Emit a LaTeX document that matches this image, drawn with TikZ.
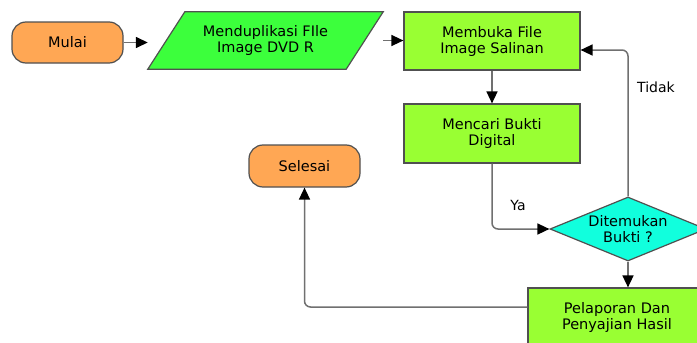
\documentclass[tikz,border=0pt]{standalone}
\usepackage{fontspec}
\setmainfont{DejaVu Sans}
\usetikzlibrary{shapes.geometric,arrows.meta}
\definecolor{termcol}{HTML}{FFA754}
\definecolor{iocol}{HTML}{3CFF3C}
\definecolor{proccol}{HTML}{99FF33}
\definecolor{deccol}{HTML}{11FFDD}
\definecolor{edgecol}{HTML}{505050}
\definecolor{linecol}{HTML}{707070}
\begin{document}
\begin{tikzpicture}[x=1pt,y=-1pt,
  every node/.style={font=\fontsize{14.5}{16}\selectfont, align=center, inner sep=0pt},
  term/.style={draw=edgecol, fill=termcol, line width=1.2pt, rounded corners=14pt, minimum width=111pt, minimum height=41pt},
  proc/.style={draw=edgecol, fill=proccol, line width=1.2pt, minimum width=176pt, minimum height=58pt},
  decis/.style={draw=edgecol, fill=deccol, line width=1.2pt, diamond, shape aspect=2.44, minimum width=156pt, minimum height=64pt},
  iobox/.style={minimum width=198pt, minimum height=57pt},
  conn/.style={draw=linecol, line width=1.5pt, rounded corners=6pt, -{Triangle[length=12pt,width=11pt,color=black]}},
  lbl/.style={font=\fontsize{14}{16}\selectfont}
]
\useasboundingbox (0,0) rectangle (697,343);
\fill[white] (0,0) rectangle (697,343);

\node[term] (mulai) at (67.5,42.5) {Mulai};
\node[iobox] (par) at (265.5,40.5) {};
\filldraw[draw=edgecol, fill=iocol, line width=1.2pt]
  ([xshift=18.5pt]par.north west) -- ([xshift=18.5pt]par.north east)
  -- ([xshift=-18.5pt]par.south east) -- ([xshift=-18.5pt]par.south west) -- cycle;
\node at (par) {Menduplikasi FIle\\Image DVD R};
\node[proc] (b1) at (492,41) {Membuka File\\Image Salinan};
\node[proc, minimum height=59pt] (b2) at (492,133.5) {Mencari Bukti\\Digital};
\node[term, minimum height=42pt] (sel) at (304.5,166) {Selesai};
\node[decis] (dia) at (628,229) {Ditemukan\\Bukti ?};
\node[proc, minimum width=178pt] (pel) at (617,317) {Pelaporan Dan\\Penyajian Hasil};

\coordinate (parin) at ([xshift=-18.5pt]par.west);
\coordinate (parout) at ([xshift=18.5pt]par.east);
\coordinate (b1back) at ([yshift=-9pt]b1.east);
\coordinate (pelout) at ([yshift=10pt]pel.west);

\draw[conn] (mulai.east) -- (mulai.east -| parin);
\draw[conn] (parout) -- (parout -| b1.west);
\draw[conn] (b1.south) -- (b2.north);
\draw[conn] (b2.south) -- (b2.south |- dia.west) -- (dia.west);
\draw[conn] (dia.north) -- (dia.north |- b1back) -- (b1back);
\draw[conn] (dia.south) -- (dia.south |- pel.north);
\draw[conn] (pelout) -- (sel.south |- pelout) -- (sel.south);

\node[lbl] (ya) at (518,205) {Ya};
\node[lbl] (tidak) at (656,87) {Tidak};
\end{tikzpicture}
\end{document}
